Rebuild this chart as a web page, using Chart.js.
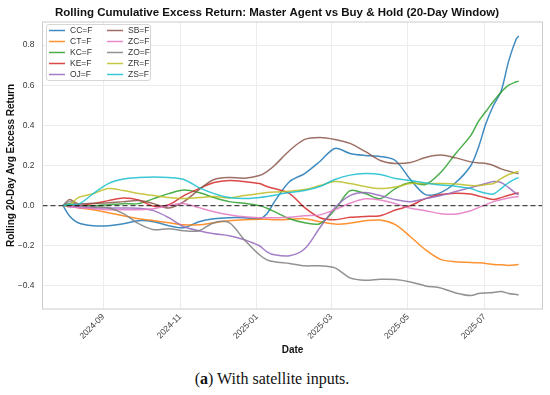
<!DOCTYPE html>
<html><head><meta charset="utf-8">
<script src="https://cdn.jsdelivr.net/npm/chart.js@4.4.1/dist/chart.umd.min.js"></script>
<style>
html,body{margin:0;padding:0;background:#fff;}
#wrap{position:relative;width:550px;height:395px;overflow:hidden;}
#c{position:absolute;left:0;top:0;}
#cap{position:absolute;left:-3px;width:550px;top:371px;line-height:16px;text-align:center;font-family:"Liberation Serif","Times New Roman",serif;font-size:16px;color:#111;}
</style></head><body>
<div id="wrap"><canvas id="c" width="550" height="360"></canvas>
<div id="cap">(<b>a</b>) With satellite inputs.</div></div>
<script>
const chartTitle = 'Rolling Cumulative Excess Return: Master Agent vs Buy & Hold (20-Day Window)';
const xTitle = 'Date';
const yTitle = 'Rolling 20-Day Avg Excess Return';
const xTickLabels = ['2024-09','2024-11','2025-01','2025-03','2025-05','2025-07'];
const yTickValues = [-0.4,-0.2,0,0.2,0.4,0.6,0.8];
const seriesNames = ['CC=F','CT=F','KC=F','KE=F','OJ=F','SB=F','ZC=F','ZO=F','ZR=F','ZS=F'];
const dates = ['2024-07-31','2024-08-05','2024-08-12','2024-08-24','2024-09-05','2024-09-17','2024-09-29','2024-10-11','2024-10-23','2024-11-04','2024-11-16','2024-11-28','2024-12-10','2024-12-22','2025-01-03','2025-01-09','2025-01-15','2025-01-27','2025-02-08','2025-02-20','2025-03-04','2025-03-16','2025-03-28','2025-04-09','2025-04-21','2025-05-03','2025-05-15','2025-05-27','2025-06-08','2025-06-20','2025-06-26','2025-07-02','2025-07-08','2025-07-14','2025-07-20','2025-07-26','2025-07-28'];
const CC = [0,-0.05,-0.085,-0.1,-0.1,-0.09,-0.075,-0.08,-0.1,-0.11,-0.08,-0.065,-0.06,-0.06,-0.065,-0.04,0.02,0.12,0.16,0.22,0.285,0.26,0.25,0.245,0.225,0.13,0.055,0.065,0.115,0.2,0.29,0.41,0.5,0.57,0.72,0.83,0.845];
const CT = [0,0,-0.01,-0.02,-0.035,-0.05,-0.065,-0.075,-0.085,-0.095,-0.095,-0.085,-0.075,-0.07,-0.068,-0.068,-0.07,-0.068,-0.065,-0.08,-0.092,-0.087,-0.075,-0.072,-0.095,-0.155,-0.22,-0.268,-0.28,-0.283,-0.285,-0.288,-0.293,-0.295,-0.298,-0.295,-0.293];
const KC = [0,0.01,0,0,0.005,0.01,0.01,0.035,0.06,0.078,0.065,0.04,0.02,0.012,0,-0.013,-0.03,-0.065,-0.085,-0.09,-0.02,0.075,0.06,0.035,0.085,0.115,0.105,0.165,0.26,0.35,0.42,0.47,0.52,0.565,0.6,0.617,0.62];
const KE = [0,0,0,0.01,0.025,0.038,0.028,-0.003,0.005,0.05,0.085,0.115,0.125,0.12,0.11,0.095,0.085,0.06,-0.01,-0.06,-0.07,-0.058,-0.054,-0.05,-0.022,0,0.035,0.055,0.062,0.058,0.048,0.038,0.03,0.04,0.052,0.062,0.064];
const OJ = [0,-0.005,-0.005,-0.01,-0.012,-0.012,-0.013,-0.025,-0.06,-0.105,-0.125,-0.14,-0.15,-0.17,-0.2,-0.23,-0.245,-0.25,-0.215,-0.11,-0.01,0.05,0.065,0.05,0.03,0.02,0.035,0.05,0.07,0.09,0.1,0.11,0.12,0.115,0.09,0.06,0.055];
const SB = [0,0.03,0.01,0.012,0.015,0.02,0.025,0.01,-0.012,0.02,0.08,0.13,0.14,0.137,0.15,0.17,0.2,0.275,0.33,0.34,0.33,0.31,0.27,0.225,0.21,0.215,0.24,0.252,0.238,0.218,0.213,0.21,0.2,0.183,0.172,0.162,0.16];
const ZC = [0,-0.005,-0.01,-0.015,-0.02,-0.02,-0.02,-0.015,0,0.01,-0.01,-0.03,-0.045,-0.055,-0.06,-0.06,-0.06,-0.058,-0.05,-0.046,-0.02,0.012,0.034,0.028,0.01,-0.013,-0.025,-0.04,-0.042,-0.025,-0.01,0.005,0.02,0.03,0.038,0.044,0.045];
const ZO = [0,0.02,0.005,-0.005,-0.01,-0.04,-0.09,-0.12,-0.115,-0.125,-0.125,-0.085,-0.085,-0.17,-0.245,-0.27,-0.28,-0.288,-0.3,-0.3,-0.31,-0.36,-0.372,-0.367,-0.368,-0.38,-0.4,-0.41,-0.435,-0.448,-0.438,-0.435,-0.433,-0.428,-0.438,-0.443,-0.444];
const ZR = [0,0,0.04,0.06,0.085,0.075,0.06,0.05,0.04,0.035,0.04,0.045,0.038,0.05,0.06,0.065,0.068,0.072,0.08,0.1,0.12,0.11,0.095,0.085,0.093,0.11,0.11,0.11,0.108,0.1,0.1,0.105,0.11,0.135,0.155,0.168,0.17];
const ZS = [0,0.005,0.005,0.06,0.11,0.133,0.14,0.143,0.14,0.13,0.09,0.06,0.04,0.035,0.04,0.045,0.052,0.065,0.075,0.095,0.13,0.152,0.16,0.155,0.135,0.125,0.113,0.103,0.097,0.085,0.072,0.062,0.058,0.085,0.115,0.135,0.14];
const zeroLevel = 0;

const seriesValues = [CC,CT,KC,KE,OJ,SB,ZC,ZO,ZR,ZS];
const colors = ['rgba(31,119,180,0.85)','rgba(255,127,14,0.85)','rgba(44,160,44,0.85)','rgba(214,39,40,0.85)','rgba(148,103,189,0.85)','rgba(140,86,75,0.85)','rgba(227,119,194,0.85)','rgba(127,127,127,0.85)','rgba(188,189,34,0.85)','rgba(23,190,207,0.85)'];

const DAY = 86400000;
const base = Date.parse('2024-09-01');
const xMin = base - 48.3*DAY, xMax = base + 348.9*DAY;
const xs = dates.map(d => Date.parse(d));
const tickVals = xTickLabels.map(s => Date.parse(s + '-01'));
const FONT = '"Liberation Sans", Arial, sans-serif';
Chart.defaults.font.family = FONT;

const datasets = seriesNames.map((name,i) => ({
  label: name,
  data: xs.map((x,j) => ({x, y: seriesValues[i][j]})),
  borderColor: colors[i], backgroundColor: colors[i],
  borderWidth: 1.5, pointRadius: 0, tension: 0.3, fill: false,
  order: 10 - i
}));
datasets.push({
  label: 'zero', data: [{x:xMin,y:zeroLevel},{x:xMax,y:zeroLevel}],
  borderColor: 'rgba(0,0,0,0.7)', borderWidth: 1.4, borderDash: [5,3],
  pointRadius: 0, fill: false, order: 0
});

const decor = {
  id: 'decor',
  afterDraw(chart){
    const ctx = chart.ctx, a = chart.chartArea;
    ctx.save();
    ctx.strokeStyle = '#cccccc'; ctx.lineWidth = 1;
    ctx.strokeRect(a.left, a.top, a.right - a.left, a.bottom - a.top);
    ctx.fillStyle = '#111';
    ctx.font = 'bold 11.5px ' + FONT;
    ctx.textAlign = 'center'; ctx.textBaseline = 'alphabetic';
    ctx.fillText(chartTitle, 277, 16);
    ctx.font = 'bold 10px ' + FONT; ctx.textBaseline = 'middle';
    ctx.fillText(xTitle, (a.left + a.right)/2, 350.5);
    ctx.save(); ctx.translate(11, (a.top + a.bottom)/2); ctx.rotate(-Math.PI/2);
    ctx.fillText(yTitle, 0, 0); ctx.restore();
    // legend
    ctx.beginPath();
    ctx.roundRect(46.5, 24.5, 104, 56, 2.5);
    ctx.fillStyle = 'rgba(255,255,255,0.85)'; ctx.fill();
    ctx.strokeStyle = '#d6d6d6'; ctx.lineWidth = 1; ctx.stroke();
    ctx.font = '8.5px ' + FONT; ctx.textAlign = 'left'; ctx.textBaseline = 'middle';
    seriesNames.forEach((name,i) => {
      const col = Math.floor(i/5), row = i % 5;
      const lx = col ? 107 : 49, ty = 30.5 + row*11;
      ctx.strokeStyle = colors[i]; ctx.lineWidth = 1.5;
      ctx.beginPath(); ctx.moveTo(lx, ty); ctx.lineTo(lx + 16, ty); ctx.stroke();
      ctx.fillStyle = '#333';
      ctx.fillText(name, lx + 21, ty + 0.5);
    });
    ctx.restore();
  }
};

new Chart(document.getElementById('c'), {
  type: 'line',
  data: { datasets },
  options: {
    responsive: false, animation: false, devicePixelRatio: 1,
    layout: { padding: { top: 22, right: 7.5, left: 0, bottom: 0 } },
    plugins: { legend: { display: false }, title: { display: false }, tooltip: { enabled: false } },
    scales: {
      x: {
        type: 'linear', min: xMin, max: xMax,
        afterBuildTicks: sc => { sc.ticks = tickVals.map(v => ({ value: v })); },
        afterFit: sc => { sc.height = 51; },
        ticks: { autoSkip: false, minRotation: 45, maxRotation: 45, padding: 3, color: '#3a3a3a', font: { size: 8.5 },
          callback: v => { const i = tickVals.indexOf(v); return i >= 0 ? xTickLabels[i] : ''; } },
        grid: { color: '#ececec', drawTicks: false }, border: { display: false }
      },
      y: {
        min: -0.515, max: 0.915,
        afterBuildTicks: sc => { sc.ticks = yTickValues.map(v => ({ value: v })); },
        afterFit: sc => { sc.width = 42.5; },
        ticks: { padding: 8, color: '#3a3a3a', font: { size: 8.5 },
          callback: v => (v < -1e-9 ? '\u2212' : '') + Math.abs(v).toFixed(1) },
        grid: { color: '#ececec', drawTicks: false }, border: { display: false }
      }
    }
  },
  plugins: [decor]
});
</script>
</body></html>
